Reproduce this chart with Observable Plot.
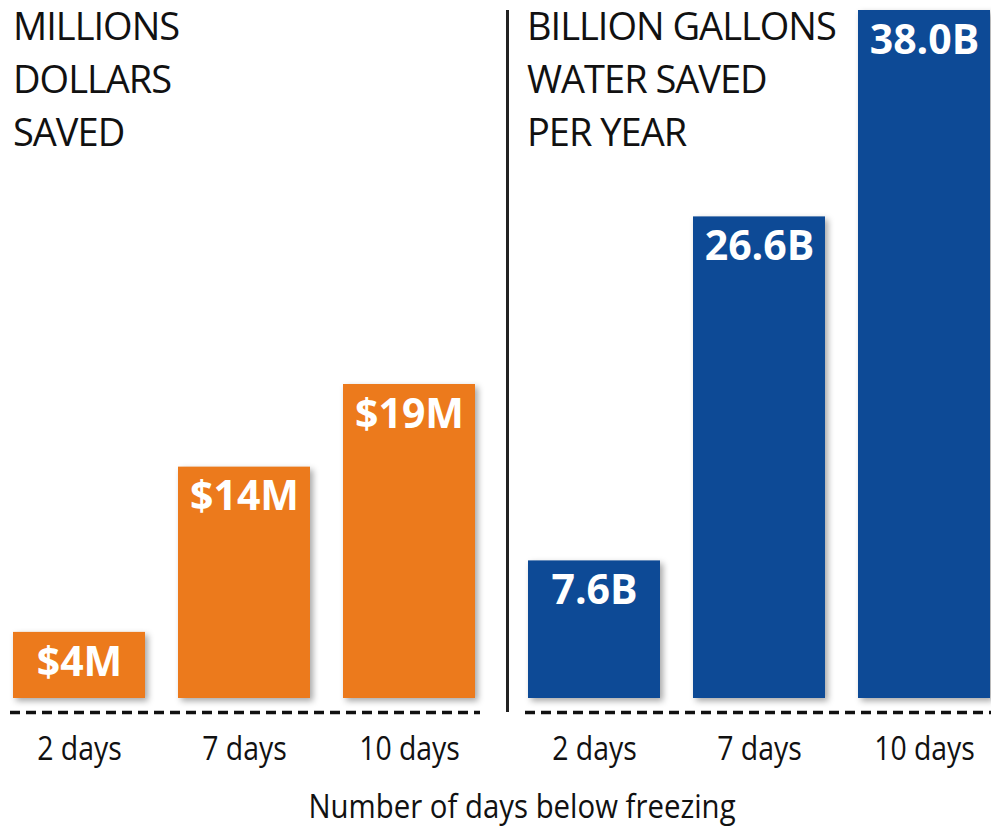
<!DOCTYPE html>
<html>
<head>
<meta charset="utf-8">
<script src="https://cdn.jsdelivr.net/npm/d3@7"></script>
<script src="https://cdn.jsdelivr.net/npm/@observablehq/plot@0.6"></script>
<style>
  html, body { margin: 0; padding: 0; background: #fff; }
  #wrap { position: relative; width: 991px; height: 829px; overflow: hidden; }
  #wrap svg { position: absolute; left: 0; top: 0; }
  #wrap svg g[aria-label="bar"] rect { filter: drop-shadow(3px 3px 3px rgba(0,0,0,0.35)); }
  .title { position: absolute; font-family: "Open Sans", sans-serif; font-size: 38px; line-height: 40px;
           letter-spacing: -1px; color: #111; white-space: nowrap; }
  #divider { position: absolute; left: 506px; top: 10px; width: 2.5px; height: 702px; background: #222; }
  #caption { position: absolute; top: 786px; left: 522px; transform: translateX(-50%) scaleX(0.89);
             font-family: "Open Sans", sans-serif; font-size: 33px; line-height: 40px;
             color: #111; white-space: nowrap; }
</style>
</head>
<body>
<div id="wrap">
  <div class="title" style="left:13px; top:5px;">MILLIONS</div>
  <div class="title" style="left:13px; top:58px;">DOLLARS</div>
  <div class="title" style="left:13px; top:111px;">SAVED</div>
  <div class="title" style="left:527px; top:5px;">BILLION GALLONS</div>
  <div class="title" style="left:527px; top:58px;">WATER SAVED</div>
  <div class="title" style="left:527px; top:111px;">PER YEAR</div>
  <div id="divider"></div>
  <div id="caption">Number of days below freezing</div>
</div>
<script>
const days = ["2 days", "7 days", "10 days"];
const dollarsMillions = [4, 14, 19];
const dollarLabels = ["$4M", "$14M", "$19M"];
const gallonsBillions = [7.6, 26.6, 38.0];
const gallonLabels = ["7.6B", "26.6B", "38.0B"];

const orange = "#EC7A1C";
const blue = "#0D4A96";
const H = 775;

function panel(values, labels, color, xRange, yMaxPx, yMaxVal, mLeft, mRight) {
  const data = days.map((d, i) => ({day: d, value: values[i], label: labels[i]}));
  return Plot.plot({
    width: 991,
    height: H,
    marginTop: 0,
    marginBottom: H - 698,
    marginLeft: mLeft,
    marginRight: mRight,
    style: {background: "transparent", overflow: "visible"},
    x: {domain: days, range: xRange, paddingInner: 0.2, paddingOuter: 0, label: null},
    y: {domain: [0, yMaxVal], range: [698, yMaxPx], axis: null},
    marks: [
      Plot.barY(data, {x: "day", y: "value", fill: color}),
      Plot.text(data, {x: "day", y: "value", text: "label", dy: 30, fill: "white",
        fontSize: 41, fontWeight: "bold", fontFamily: "Open Sans, sans-serif"}),
      Plot.ruleY([0], {dy: 14, stroke: "#111", strokeWidth: 3.5, strokeDasharray: "10,6"}),
      Plot.axisX({tickSize: 0, tickPadding: 38, fontSize: 33,
        fontFamily: "Open Sans, sans-serif", fill: "#111", label: null})
    ]
  });
}

const wrap = document.getElementById("wrap");
const left = panel(dollarsMillions, dollarLabels, orange, [13, 475], 384, 19, 10, 511);
const right = panel(gallonsBillions, gallonLabels, blue, [527, 990], 10, 38.0, 525, 0);
wrap.prepend(right);
wrap.prepend(left);

// condense tick labels horizontally (text-anchor middle keeps them centred)
[left, right].forEach(svg => {
  svg.querySelectorAll('g[aria-label*="tick label"] text').forEach(t => {
    const len = t.getComputedTextLength();
    t.setAttribute("textLength", (len * 0.86).toFixed(1));
    t.setAttribute("lengthAdjust", "spacingAndGlyphs");
  });
});
</script>
</body>
</html>
